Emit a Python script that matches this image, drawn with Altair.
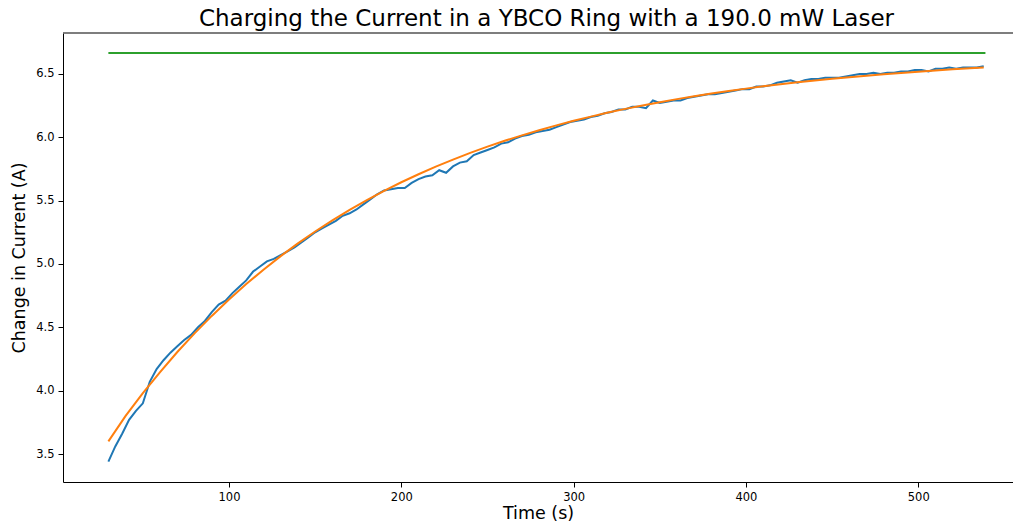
import altair as alt
import pandas as pd

TITLE = "Charging the Current in a YBCO Ring with a 190.0 mW Laser"

# measured data (blue)
meas_t = [30, 34, 38, 42, 46, 50, 54, 58, 62, 66, 70, 74, 78, 82, 86, 90, 94, 98,
          102, 106, 110, 114, 118, 122, 126, 130, 134, 138, 142, 146, 150, 154, 158,
          162, 166, 170, 174, 178, 182, 186, 190, 194, 198, 202, 206, 210, 214, 218,
          222, 226, 230, 234, 238, 242, 246, 250, 254, 258, 262, 266, 270, 274, 278,
          282, 286, 290, 294, 298, 302, 306, 310, 314, 318, 322, 326, 330, 334, 338,
          342, 346, 350, 354, 358, 362, 366, 370, 374, 378, 382, 386, 390, 394, 398,
          402, 406, 410, 414, 418, 422, 426, 430, 434, 438, 442, 446, 450, 454, 458,
          462, 466, 470, 474, 478, 482, 486, 490, 494, 498, 502, 506, 510, 514, 518,
          522, 526, 530, 534, 538]
meas_i = [3.44, 3.56, 3.66, 3.77, 3.84, 3.90, 4.07, 4.17, 4.24, 4.30, 4.35, 4.40, 4.44,
          4.50, 4.55, 4.62, 4.68, 4.71, 4.77, 4.82, 4.87, 4.94, 4.98, 5.02, 5.04, 5.07,
          5.10, 5.13, 5.17, 5.21, 5.25, 5.28, 5.31, 5.34, 5.38, 5.40, 5.43, 5.47, 5.51,
          5.55, 5.58, 5.59, 5.60, 5.60, 5.64, 5.67, 5.69, 5.70, 5.74, 5.72, 5.77, 5.80,
          5.81, 5.86, 5.88, 5.90, 5.92, 5.95, 5.96, 5.99, 6.01, 6.02, 6.04, 6.05, 6.06,
          6.08, 6.10, 6.12, 6.13, 6.14, 6.16, 6.17, 6.19, 6.20, 6.22, 6.22, 6.24, 6.24,
          6.23, 6.29, 6.27, 6.28, 6.29, 6.29, 6.31, 6.32, 6.33, 6.34, 6.34, 6.35, 6.36,
          6.37, 6.38, 6.38, 6.40, 6.40, 6.41, 6.43, 6.44, 6.45, 6.43, 6.45, 6.46, 6.46,
          6.47, 6.47, 6.47, 6.48, 6.49, 6.50, 6.50, 6.51, 6.50, 6.51, 6.51, 6.52, 6.52,
          6.53, 6.53, 6.52, 6.54, 6.54, 6.55, 6.54, 6.55, 6.55, 6.55, 6.56]

# fitted curve (orange)
fit_t = [30, 40, 50, 60, 70, 80, 90, 100, 110, 120, 130, 140, 150, 160, 170, 180, 190,
         200, 210, 220, 230, 240, 250, 260, 270, 280, 290, 300, 310, 320, 330, 340, 350,
         360, 370, 380, 390, 400, 410, 420, 430, 440, 450, 460, 470, 480, 490, 500, 510,
         520, 530, 538]
fit_i = [3.600, 3.801, 3.980, 4.147, 4.305, 4.452, 4.590, 4.720, 4.841, 4.955, 5.062,
         5.162, 5.256, 5.344, 5.427, 5.504, 5.577, 5.645, 5.708, 5.768, 5.824, 5.877,
         5.926, 5.972, 6.015, 6.056, 6.094, 6.130, 6.163, 6.195, 6.224, 6.251, 6.277,
         6.301, 6.324, 6.345, 6.365, 6.384, 6.402, 6.418, 6.434, 6.448, 6.462, 6.474,
         6.486, 6.497, 6.508, 6.518, 6.527, 6.536, 6.544, 6.550]

# saturation level (green)
sat_t = [30, 539]
sat_i = [6.665, 6.665]

df_meas = pd.DataFrame({"t": meas_t, "i": meas_i})
df_fit = pd.DataFrame({"t": fit_t, "i": fit_i})
df_sat = pd.DataFrame({"t": sat_t, "i": sat_i})
df_title = pd.DataFrame({"label": [TITLE]})

FONT = "DejaVu Sans"

xscale = alt.Scale(domain=[3.66, 555.0], nice=False, zero=False)
yscale = alt.Scale(domain=[3.279, 6.823], nice=False, zero=False)

xaxis = alt.Axis(values=[100, 200, 300, 400, 500], title="Time (s)", grid=False,
                 format="d", labelFontSize=11.5, titleFontSize=17.5, titleFontWeight="normal",
                 tickSize=5, labelPadding=4, titlePadding=2, domainColor="black",
                 tickColor="black", labelColor="black", titleColor="black")
yaxis = alt.Axis(values=[3.5, 4.0, 4.5, 5.0, 5.5, 6.0, 6.5], title="Change in Current (A)",
                 grid=False, format=".1f", labelFontSize=11.5, titleFontSize=17.5,
                 titleFontWeight="normal", tickSize=5, labelPadding=4, titlePadding=7,
                 domainColor="black", tickColor="black", labelColor="black", titleColor="black")

base_x = alt.X("t:Q", scale=xscale, axis=xaxis)
base_y = alt.Y("i:Q", scale=yscale, axis=yaxis)

meas = alt.Chart(df_meas).mark_line(color="#1f77b4", strokeWidth=2, clip=True).encode(x=base_x, y=base_y)
fit = alt.Chart(df_fit).mark_line(color="#ff7f0e", strokeWidth=2, clip=True).encode(x=base_x, y=base_y)
sat = alt.Chart(df_sat).mark_line(color="#2ca02c", strokeWidth=2, clip=True).encode(x=base_x, y=base_y)

top_spine = alt.Chart(df_sat).mark_rule(color="#555555", strokeWidth=1.2).encode(
    x=alt.value(0), x2=alt.value(950), y=alt.value(0))

title_text = alt.Chart(df_title).mark_text(
    font=FONT, fontSize=23, color="black", align="center", baseline="alphabetic"
).encode(text="label:N", x=alt.value(483.5), y=alt.value(-7))

chart = alt.layer(meas, fit, sat, top_spine, title_text).properties(
    width=950, height=449,
    autosize=alt.AutoSizeParams(type="none"),
    padding={"left": 55, "top": 25, "right": 0, "bottom": 41},
).configure_view(stroke=None).configure_axis(labelFont=FONT, titleFont=FONT)

chart.save("out.html", embed_options={"renderer": "svg", "actions": False})
